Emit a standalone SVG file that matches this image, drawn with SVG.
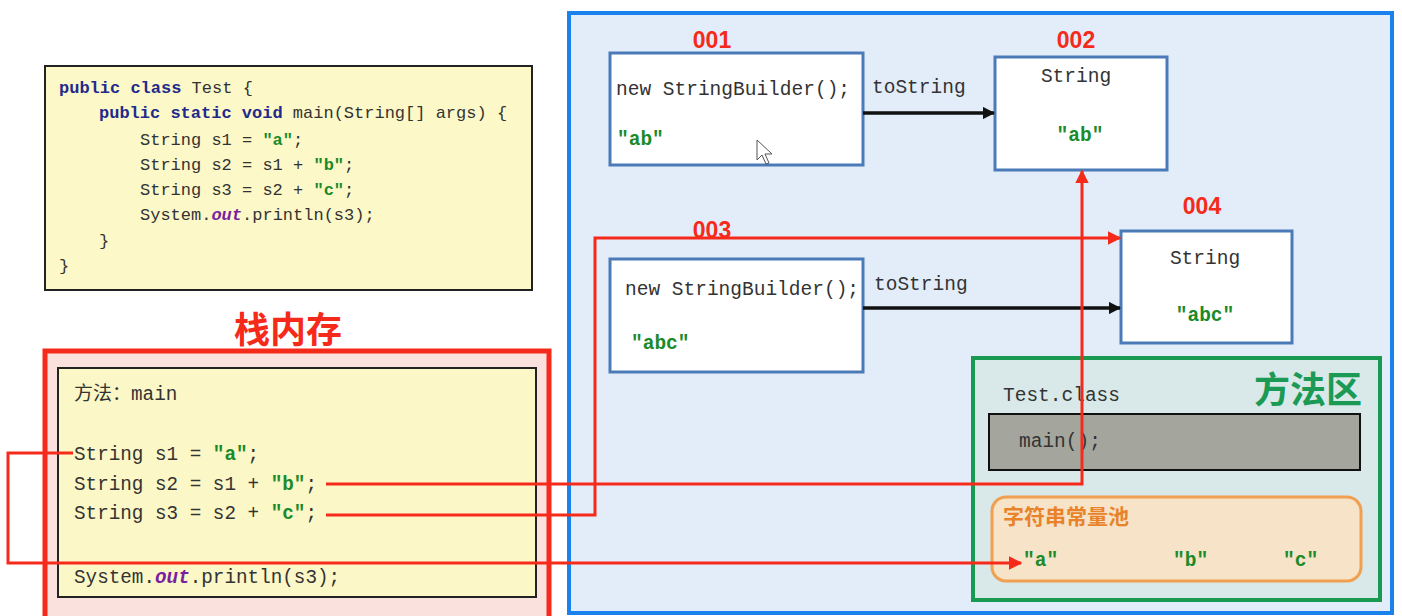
<svg xmlns="http://www.w3.org/2000/svg" width="1402" height="616" viewBox="0 0 1402 616">
<defs>
<style>
.mono{font-family:"Liberation Mono","DejaVu Sans Mono",monospace;fill:#333}
.kw{fill:#1f2a8c;font-weight:bold}
.str{fill:#1a8a2a;font-weight:bold}
.out{fill:#7a1fa0;font-weight:bold;font-style:italic}
.addr{font-family:"Liberation Sans","Noto Sans",sans-serif;font-weight:bold;fill:#f52a1a;font-size:23px}
.obj{fill:#ffffff;stroke:#4a7ab8;stroke-width:3}
.red{fill:none;stroke:#f52a1a;stroke-width:3}
.blk{fill:none;stroke:#111;stroke-width:3.5}
</style>
<marker id="ar" viewBox="0 0 10 10" refX="9" refY="5" markerWidth="4.5" markerHeight="4.5" orient="auto" markerUnits="strokeWidth"><path d="M0,0L10,5L0,10z" fill="#f52a1a"/></marker>
<marker id="ab" viewBox="0 0 10 10" refX="9" refY="5" markerWidth="3.5" markerHeight="3.5" orient="auto" markerUnits="strokeWidth"><path d="M0,0L10,5L0,10z" fill="#111"/></marker>
</defs>
<rect width="1402" height="616" fill="#ffffff"/>

<g id="code">
<rect x="45" y="66" width="487" height="224" fill="#fcf8c8" stroke="#222" stroke-width="2"/>
<g class="mono" font-size="17">
<text x="59" y="93"><tspan class="kw">public class</tspan> Test {</text>
<text x="99" y="118"><tspan class="kw">public static void</tspan> main(String[] args) {</text>
<text x="140" y="145">String s1 = <tspan class="str">"a"</tspan>;</text>
<text x="140" y="170">String s2 = s1 + <tspan class="str">"b"</tspan>;</text>
<text x="140" y="195">String s3 = s2 + <tspan class="str">"c"</tspan>;</text>
<text x="140" y="220">System.<tspan class="out">out</tspan>.println(s3);</text>
<text x="99" y="246">}</text>
<text x="59" y="271">}</text>
</g>
</g>

<g id="heap">
<rect x="569" y="13" width="823" height="600" fill="#e2edf9" stroke="#1a82ec" stroke-width="4"/>
</g>

<g id="stack">
<text x="288" y="343" text-anchor="middle" font-family="'Noto Sans CJK SC',sans-serif" font-weight="bold" font-size="36" fill="#f52a1a">栈内存</text>
<rect x="45" y="351" width="504" height="275" fill="#fbe1dd" stroke="#f52a1a" stroke-width="5"/>
<rect x="58" y="368" width="478" height="229" fill="#fcf7c6" stroke="#222" stroke-width="2"/>
<g class="mono" font-size="19.3">
<text x="74" y="400"><tspan font-family="'Noto Sans CJK SC',sans-serif" font-size="19">方法：</tspan>main</text>
<text x="74" y="460">String s1 = <tspan class="str">"a"</tspan>;</text>
<text x="74" y="490">String s2 = s1 + <tspan class="str">"b"</tspan>;</text>
<text x="74" y="519">String s3 = s2 + <tspan class="str">"c"</tspan>;</text>
<text x="74" y="583">System.<tspan class="out">out</tspan>.println(s3);</text>
</g>
</g>

<g id="sb001">
<text class="addr" x="712" y="48" text-anchor="middle">001</text>
<rect class="obj" x="610" y="53" width="253" height="112"/>
<g class="mono" font-size="19.5">
<text x="616" y="95">new StringBuilder();</text>
<text x="617" y="145" class="str">"ab"</text>
</g>
<path d="M757,140 L757,160 L762,155 L766,164 L769,163 L765,154 L772,154 Z" fill="#fff" stroke="#555" stroke-width="1"/>
</g>

<g id="str002">
<text class="addr" x="1076" y="48" text-anchor="middle">002</text>
<rect class="obj" x="995" y="57" width="172" height="113"/>
<g class="mono" font-size="19.5" text-anchor="middle">
<text x="1076" y="82">String</text>
<text x="1080" y="141" class="str">"ab"</text>
</g>
</g>

<g id="sb003">
<text class="addr" x="712" y="238" text-anchor="middle">003</text>
<rect class="obj" x="610" y="259" width="253" height="113"/>
<g class="mono" font-size="19.5">
<text x="625" y="295">new StringBuilder();</text>
<text x="631" y="349" class="str">"abc"</text>
</g>
</g>

<g id="str004">
<text class="addr" x="1202" y="214" text-anchor="middle">004</text>
<rect class="obj" x="1121" y="231" width="171" height="112"/>
<g class="mono" font-size="19.5" text-anchor="middle">
<text x="1205" y="264">String</text>
<text x="1205" y="321" class="str">"abc"</text>
</g>
</g>

<g id="methodArea">
<rect x="973" y="358" width="407" height="242" fill="#d9e9e9" stroke="#1a9a50" stroke-width="4"/>
<text x="1362" y="403" text-anchor="end" font-family="'Noto Sans CJK SC',sans-serif" font-weight="bold" font-size="36" fill="#1b9a55">方法区</text>
<text class="mono" x="1003" y="401" font-size="19.5">Test.class</text>
<rect x="989" y="414" width="371" height="56" fill="#a4a69d" stroke="#111" stroke-width="2"/>
<text class="mono" x="1019" y="447" font-size="19.5">main();</text>
</g>

<g id="stringPool">
<rect x="992" y="497" width="369" height="84" rx="14" fill="#f6e3c8" stroke="#f0a050" stroke-width="3"/>
<text x="1003" y="524" font-family="'Noto Sans CJK SC',sans-serif" font-weight="bold" font-size="21" fill="#e8832a">字符串常量池</text>
<g class="mono str" font-size="19.5">
<text x="1023" y="566">"a"</text>
<text x="1173" y="566">"b"</text>
<text x="1283" y="566">"c"</text>
</g>
</g>

<g id="connectors">
<path class="blk" d="M863,113 L994,113" marker-end="url(#ab)"/>
<path class="blk" d="M863,308 L1120,308" marker-end="url(#ab)"/>
<text class="mono" x="872" y="93" font-size="19.5">toString</text>
<text class="mono" x="874" y="290" font-size="19.5">toString</text>
<path class="red" d="M73,453 L8,453 L8,563 L1021,563" marker-end="url(#ar)"/>
<path class="red" d="M326,484 L1082,484 L1082,171" marker-end="url(#ar)"/>
<path class="red" d="M326,515 L595,515 L595,238 L1120,238" marker-end="url(#ar)"/>
</g>
</svg>
